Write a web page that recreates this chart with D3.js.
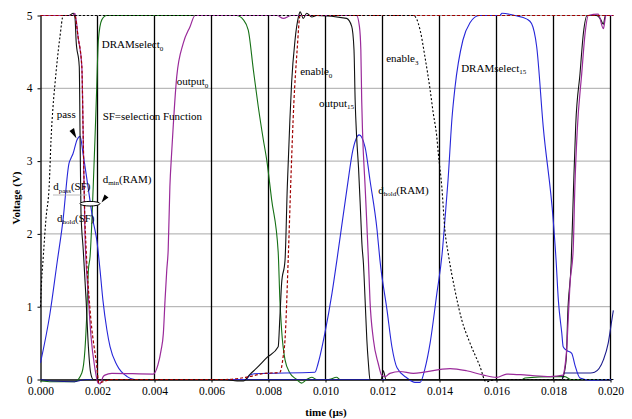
<!DOCTYPE html>
<html>
<head>
<meta charset="utf-8">
<script src="https://cdn.jsdelivr.net/npm/d3@7"></script>
<style>
  body { margin: 0; background: #fff; }
  text { font-family: "Liberation Serif", "Times New Roman", serif; }
</style>
</head>
<body>
<div id="chart"></div>
<script>
/* svg size */
const width = 632;
const height = 419;

/* axis ticks */
const xTicks = [0, 0.002, 0.004, 0.006, 0.008, 0.010, 0.012, 0.014, 0.016, 0.018, 0.020];
const yTicks = [0, 1, 2, 3, 4, 5];

/* traces: [time (us), voltage] */
const enable3 = [
  [0, 1.0], [0.00002, 1.2], [0.0001, 1.7], [0.00019, 2.2], [0.00031, 2.7], [0.00037, 3.3],
  [0.00044, 3.75], [0.00051, 4.07], [0.00068, 4.7], [0.0008, 5.0], [0.0125, 5.0],
  [0.01308, 5.0], [0.01332, 4.8], [0.01349, 4.43], [0.01367, 3.98], [0.01378, 3.66],
  [0.0139, 3.35], [0.01396, 3.1], [0.01408, 2.65], [0.01419, 2.05], [0.01431, 1.72],
  [0.01454, 1.23], [0.01478, 0.82], [0.01507, 0.5], [0.01542, 0.18], [0.01563, -0.03],
  [0.016, 0.0], [0.0201, 0.0]
];

const enable0 = [
  [0, 5.0], [0.0012, 5.0], [0.00132, 4.7], [0.00145, 4.3], [0.0015, 3.3], [0.00155, 2.3],
  [0.0016, 1.8], [0.00174, 0.95], [0.00197, 0.2], [0.00205, -0.05], [0.0022, -0.03],
  [0.0025, 0.0], [0.0065, 0.0], [0.0072, 0.03], [0.0078, 0.08], [0.0084, 0.1],
  [0.00851, 0.3], [0.00858, 0.55], [0.0087, 1.75], [0.00879, 2.8], [0.00889, 3.8],
  [0.009, 4.5], [0.00911, 5.0], [0.0201, 5.0]
];

const dramSelect0 = [
  [0, -0.02], [0.0004, -0.03], [0.0012, -0.03], [0.00145, 0.09], [0.00156, 0.41],
  [0.00162, 0.86], [0.00168, 1.5], [0.00174, 1.69], [0.00185, 2.65], [0.00191, 3.29],
  [0.00197, 3.98], [0.00203, 4.66], [0.00215, 4.94], [0.00232, 5.0], [0.00688, 5.0],
  [0.00712, 4.94], [0.00729, 4.8], [0.00747, 4.25], [0.00764, 3.75], [0.00782, 3.29],
  [0.00794, 3.01], [0.00811, 2.47], [0.00834, 1.75], [0.0084, 1.09], [0.00846, 0.68],
  [0.00858, 0.27], [0.00875, 0.09], [0.00899, 0.0], [0.00916, -0.05], [0.00934, 0.0],
  [0.00952, 0.03], [0.00969, 0.0], [0.0101, 0.0], [0.01039, 0.03], [0.01051, 0.0],
  [0.0169, 0.0], [0.017, 0.02], [0.018, 0.04], [0.0184, 0.04], [0.0186, 0.0], [0.0201, 0.0]
];

const output = [
  [0, 5.0], [0.00114, 5.0], [0.00121, 5.03], [0.00132, 4.7], [0.00145, 4.3], [0.0015, 3.3],
  [0.00156, 2.0], [0.00167, 1.2], [0.00177, 0.6], [0.00191, 0.15], [0.00202, -0.05],
  [0.00209, -0.06], [0.0022, 0.04], [0.00226, 0.06], [0.0025, 0.085], [0.00396, 0.075],
  [0.00412, 0.2], [0.00423, 0.4], [0.00431, 0.63], [0.00437, 1.09], [0.00443, 1.5],
  [0.00448, 1.78], [0.00454, 2.65], [0.0046, 3.1], [0.00466, 3.5], [0.00478, 4.16],
  [0.00501, 4.62], [0.00525, 4.85], [0.00542, 5.0], [0.0083, 5.0], [0.00852, 4.96],
  [0.0088, 5.0], [0.01109, 5.0], [0.01119, 4.85], [0.01124, 4.53], [0.01127, 3.84],
  [0.0113, 3.4], [0.01139, 2.65], [0.0115, 1.7], [0.01156, 1.09], [0.01168, 0.55],
  [0.01185, 0.22], [0.01197, 0.06], [0.01209, 0.04], [0.01226, 0.085], [0.01261, 0.11],
  [0.01308, 0.085], [0.01437, 0.15], [0.01495, 0.12], [0.01554, 0.06], [0.01601, 0.03],
  [0.01636, 0.075], [0.01706, 0.06], [0.01788, 0.04], [0.01834, 0.06], [0.0184, 0.18],
  [0.01846, 0.4], [0.01852, 0.86], [0.01858, 1.32], [0.01869, 1.78], [0.01875, 2.65],
  [0.01883, 3.4], [0.01899, 4.2], [0.01911, 4.76], [0.01922, 5.0], [0.01957, 5.02],
  [0.01975, 4.82], [0.01984, 5.0], [0.0201, 5.0]
];

const pass = [
  [0, 5.0], [0.001, 5.0], [0.00115, 5.03], [0.00121, 4.97], [0.00125, 4.65], [0.00136, 4.3],
  [0.00139, 3.3], [0.00142, 2.3], [0.0015, 1.78], [0.0016, 1.09], [0.00168, 0.45],
  [0.00176, 0.09], [0.00185, 0.0], [0.0065, 0.0], [0.0069, -0.02], [0.00712, -0.02],
  [0.00735, 0.07], [0.00759, 0.16], [0.00794, 0.3], [0.00834, 0.45], [0.0084, 0.86],
  [0.00846, 1.32], [0.00858, 1.64], [0.00866, 2.65], [0.00875, 3.56], [0.00881, 4.07],
  [0.00893, 4.66], [0.00905, 4.98], [0.00911, 5.05], [0.00922, 4.96], [0.00934, 5.03],
  [0.00952, 4.98], [0.00969, 5.0], [0.01074, 4.96], [0.01092, 4.85], [0.011, 4.53],
  [0.01104, 3.84], [0.01109, 3.35], [0.01116, 2.9], [0.01123, 2.3], [0.01128, 1.85],
  [0.01133, 1.6], [0.01139, 1.09], [0.01145, 0.55], [0.01151, 0.2], [0.01156, 0.0],
  [0.01195, 0.0], [0.01203, 0.12], [0.01212, 0.0], [0.0183, 0.0], [0.01835, 0.05],
  [0.01845, 0.3], [0.0185, 0.9], [0.01862, 1.6], [0.0187, 2.6], [0.01878, 3.5],
  [0.01893, 4.2], [0.01905, 4.76], [0.01918, 5.0], [0.0195, 5.0], [0.01965, 4.95],
  [0.01975, 4.88], [0.01982, 5.0], [0.0201, 5.0]
];

const dramSelect15 = [
  [0, 0.23], [0.00033, 0.9], [0.00058, 1.6], [0.00079, 2.19], [0.001, 2.97], [0.00107, 3.04],
  [0.00114, 3.1], [0.00128, 3.29], [0.00139, 3.34], [0.00149, 3.11], [0.00167, 2.64],
  [0.00184, 2.19], [0.00198, 1.9], [0.00209, 1.5], [0.00219, 1.09], [0.00233, 0.68],
  [0.00244, 0.45], [0.00268, 0.2], [0.00304, 0.04], [0.0033, 0.0], [0.0072, 0.0],
  [0.00735, 0.06], [0.0075, 0.08], [0.00963, 0.1], [0.00974, 0.22], [0.00998, 0.64],
  [0.01023, 1.19], [0.0104, 1.64], [0.01076, 2.64], [0.01096, 3.15], [0.01118, 3.36],
  [0.01139, 3.19], [0.01156, 2.74], [0.01181, 2.05], [0.01191, 1.64], [0.01216, 0.95],
  [0.01233, 0.45], [0.01251, 0.16], [0.01286, 0.02], [0.01314, -0.04], [0.01332, -0.04],
  [0.01349, 0.15], [0.01367, 0.5], [0.01391, 1.19], [0.01409, 1.72], [0.01419, 2.19],
  [0.0143, 2.74], [0.01444, 3.6], [0.01454, 4.0], [0.01482, 4.66], [0.01507, 4.9],
  [0.01539, 5.0], [0.01612, 5.0], [0.01619, 5.03], [0.01665, 5.0], [0.01707, 4.95],
  [0.01723, 4.89], [0.01741, 4.57], [0.01764, 3.47], [0.01799, 2.19], [0.01809, 1.64],
  [0.01817, 1.09], [0.01829, 0.64], [0.01834, 0.45], [0.01846, 0.4], [0.01864, 0.36],
  [0.01875, 0.2], [0.01893, 0.02], [0.01928, -0.01], [0.0201, 0.0]
];

const dHold = [
  [0, 0.0], [0.0004, -0.02], [0.0012, -0.03], [0.0016, 0.0], [0.0183, 0.0], [0.01837, 0.09],
  [0.0193, 0.09], [0.01944, 0.1], [0.01975, 0.27], [0.01992, 0.5], [0.02004, 0.8], [0.0201, 0.95]
];

/* labels: [text, subscript, trailing text, x time, y voltage] */
const labels = [
  ["DRAMselect", "0", "", 0.00215, 4.55],
  ["output", "0", "", 0.00478, 4.04],
  ["enable", "0", "", 0.00911, 4.18],
  ["enable", "3", "", 0.01213, 4.36],
  ["DRAMselect", "15", "", 0.01476, 4.23],
  ["output", "15", "", 0.00977, 3.75],
  ["pass", "", "", 0.00057, 3.59],
  ["SF=selection Function", "", "", 0.00218, 3.56],
  ["d", "pass", "(SF)", 0.00045, 2.6],
  ["d", "hold", "(SF)", 0.00058, 2.17],
  ["d", "min", "(RAM)", 0.00218, 2.7],
  ["d", "hold", "(RAM)", 0.01185, 2.55]
];

const serif = "'Liberation Serif', 'Times New Roman', serif";

const x = d3.scaleLinear().domain([0, 0.02]).range([40.5, 610.5]);
const y = d3.scaleLinear().domain([0, 5]).range([379.5, 15.5]);

let svg = d3.select("#chart").append("svg")
    .attr("width", width)
    .attr("height", height);

/* horizontal gray grid */
svg.append("g").selectAll("line")
    .data(yTicks.filter(d => d > 0))
    .enter().append("line")
    .attr("x1", x(0)).attr("x2", x(0.02))
    .attr("y1", d => y(d)).attr("y2", d => y(d))
    .attr("stroke", "#a8a8a8").attr("stroke-width", 1);

/* vertical black grid */
svg.append("g").selectAll("line")
    .data(xTicks.filter(d => d > 0))
    .enter().append("line")
    .attr("x1", d => x(d)).attr("x2", d => x(d))
    .attr("y1", y(0)).attr("y2", y(5))
    .attr("stroke", "#000").attr("stroke-width", 1.3);

/* axes */
const xAxis = d3.axisBottom(x)
    .tickValues(xTicks)
    .tickFormat(d3.format(".3f"))
    .tickSize(3)
    .tickPadding(4)
    .tickSizeOuter(0);

const yAxis = d3.axisLeft(y)
    .tickValues(yTicks)
    .tickFormat(d3.format("d"))
    .tickSize(3)
    .tickPadding(5)
    .tickSizeOuter(0);

let gx = svg.append("g")
    .attr("transform", "translate(0," + y(0) + ")")
    .call(xAxis);
let gy = svg.append("g")
    .attr("transform", "translate(" + x(0) + ",0)")
    .call(yAxis);

[gx, gy].forEach(g => {
    g.attr("font-family", serif).attr("font-size", 11.5);
    g.selectAll("path").attr("stroke", "#000").attr("stroke-width", 1.3);
    g.selectAll("line").attr("stroke", "#000");
    g.selectAll("text").attr("fill", "#000");
});

/* traces */
const line = d3.line()
    .x(d => x(d[0]))
    .y(d => y(d[1]))
    .curve(d3.curveMonotoneX);

const traces = [
    { data: dramSelect0, color: "#157015", dash: null, w: 1.1 },
    { data: dHold, color: "#1a1a8c", dash: null, w: 1.1 },
    { data: dramSelect15, color: "#2626d9", dash: null, w: 1.1 },
    { data: pass, color: "#111", dash: null, w: 1.1 },
    { data: output, color: "#9a2a9a", dash: null, w: 1.2 },
    { data: enable0, color: "#a00000", dash: "3,2", w: 1.2 },
    { data: enable3, color: "#000", dash: "2,2", w: 1.1 }
];

svg.append("g").selectAll("path")
    .data(traces)
    .enter().append("path")
    .attr("d", d => line(d.data))
    .attr("fill", "none")
    .attr("stroke", d => d.color)
    .attr("stroke-width", d => d.w)
    .attr("stroke-dasharray", d => d.dash);

/* annotation marks */
svg.append("line")
    .attr("x1", 53).attr("x2", 87).attr("y1", 195).attr("y2", 195)
    .attr("stroke", "#aaa").attr("stroke-width", 0.8);

svg.append("ellipse")
    .attr("cx", 90).attr("cy", 203.7).attr("rx", 10).attr("ry", 2.3)
    .attr("fill", "#fff").attr("stroke", "#000").attr("stroke-width", 1);

svg.append("polygon")
    .attr("points", "69.5,131 74,128 76.5,138.5")
    .attr("fill", "#000");
svg.append("polygon")
    .attr("points", "101.5,202.5 104.5,194.5 108.5,197.5")
    .attr("fill", "#000");

/* text labels */
let lab = svg.append("g")
    .attr("font-family", serif)
    .attr("font-size", 11)
    .attr("fill", "#000");

labels.forEach(function(l) {
    let t = lab.append("text")
        .attr("x", x(l[3]))
        .attr("y", y(l[4]));
    t.append("tspan").text(l[0]);
    if (l[1]) {
        t.append("tspan")
            .attr("dy", 2.5)
            .attr("font-size", 7)
            .text(l[1]);
    }
    if (l[2]) {
        t.append("tspan").attr("dy", -2.5).text(l[2]);
    }
});

/* axis titles */
svg.append("text")
    .attr("x", 326).attr("y", 416)
    .attr("text-anchor", "middle")
    .attr("font-family", serif)
    .attr("font-size", 11)
    .attr("font-weight", "bold")
    .text("time (\u00b5s)");

svg.append("text")
    .attr("transform", "translate(20,198) rotate(-90)")
    .attr("text-anchor", "middle")
    .attr("font-family", serif)
    .attr("font-size", 11)
    .attr("font-weight", "bold")
    .text("Voltage (V)");
</script>
</body>
</html>
